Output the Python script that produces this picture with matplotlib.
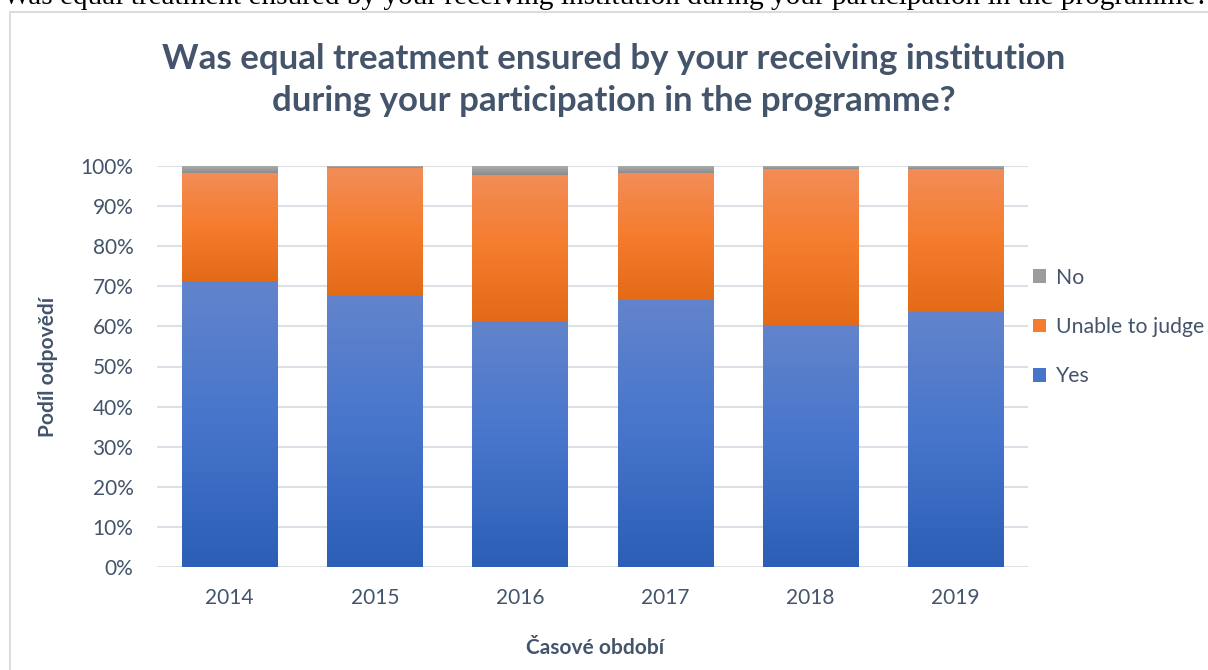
import numpy as np
import matplotlib.pyplot as plt
from matplotlib.patches import Rectangle, Patch
from matplotlib.colors import LinearSegmentedColormap
from matplotlib.ticker import PercentFormatter, MultipleLocator

# data (% of answers)
years = ['2014', '2015', '2016', '2017', '2018', '2019']
yes = [71.2, 67.7, 61.3, 66.7, 60.3, 63.7]
unable = [27.1, 31.9, 36.5, 31.6, 39.0, 35.6]
no = [1.7, 0.4, 2.2, 1.7, 0.7, 0.7]

top_text = 'Was equal treatment ensured by your receiving institution during your participation in the programme?'
title = 'Was equal treatment ensured by your receiving institution\nduring your participation in the programme?'

plt.rcParams['font.family'] = ['Lato', 'DejaVu Sans']
txt_col = '#44546A'

# gradients bottom -> top, like the office preset
grads = {
    'Yes': ['#2C5EB6', '#4675CB', '#6384CC'],
    'Unable to judge': ['#E36A17', '#F57C2D', '#F28D57'],
    'No': ['#8C8C8C', '#9C9C9C', '#ABABAB'],
}
mid = {k: v[1] for k, v in grads.items()}

fig = plt.figure(figsize=(12.08, 6.70), dpi=100)
fig.patch.set_facecolor('white')
W, H = 1208, 670
ax = fig.add_axes([157 / W, 1 - 567 / H, 871 / W, 401 / H])

x = np.arange(len(years))
grad = np.linspace(0, 1, 256).reshape(-1, 1)
bottom = np.zeros(len(years))
for name, vals in [('Yes', yes), ('Unable to judge', unable), ('No', no)]:
    bars = ax.bar(x, vals, 0.655, bottom=bottom, facecolor='none', edgecolor='none', zorder=2)
    cmap = LinearSegmentedColormap.from_list(name, grads[name])
    for p in bars:
        bb = p.get_bbox()
        im = ax.imshow(grad, extent=[bb.x0, bb.x1, bb.y0, bb.y1], origin='lower',
                       aspect='auto', cmap=cmap, zorder=2, interpolation='bilinear')
        im.set_clip_path(p)
    bottom += np.array(vals)

ax.set_xlim(-0.5, len(years) - 0.5)
ax.set_ylim(0, 100)
ax.set_xticks(x)
ax.set_xticklabels(years)
ax.yaxis.set_major_locator(MultipleLocator(10))
ax.yaxis.set_major_formatter(PercentFormatter(100, decimals=0))
ax.grid(axis='y', color='#DCE1E8', lw=1.5, zorder=0)
ax.set_axisbelow(True)
for s in ax.spines.values():
    s.set_visible(False)
ax.tick_params(length=0, labelsize=15, colors=txt_col, pad=17)
ax.tick_params(axis='x', pad=15)

ax.set_ylabel('Podíl odpovědí', fontsize=15, weight='bold', color=txt_col, va='center')
ax.yaxis.set_label_coords(-0.125, 0.5)
ax.set_xlabel('Časové období', fontsize=15, weight='bold', color=txt_col, va='center')
ax.xaxis.set_label_coords(0.503, -0.202)

handles = [Patch(facecolor=mid[k]) for k in ['No', 'Unable to judge', 'Yes']]
ax.legend(handles, ['No', 'Unable to judge', 'Yes'], loc='center left',
          bbox_to_anchor=(1033 / W, 1 - 327 / H), bbox_transform=fig.transFigure,
          frameon=False, fontsize=15.3, labelcolor=txt_col, handlelength=0.62,
          handleheight=0.62, handletextpad=0.45, labelspacing=1.38,
          borderpad=0, borderaxespad=0)

# chart frame
fig.patches.append(Rectangle((10 / W, -0.1), 1.2, 1 - 12 / H + 0.1, transform=fig.transFigure,
                             fill=False, edgecolor='#D9DDE3', lw=1.5))

# title and the cut caption above the chart, sized to fit the widths seen
r = fig.canvas.get_renderer()
t = fig.text(614 / W, 1 - 80 / H, title, ha='center', va='center', fontsize=22,
             weight='bold', color=txt_col, linespacing=1.4)
t1 = fig.text(0, 0, title.split('\n')[0], fontsize=22, weight='bold')
w = t1.get_window_extent(r).width
t1.remove()
t.set_fontsize(22 * 905 / w)

c = fig.text(3 / W, 1 - 3.5 / H, top_text, ha='left', va='baseline', fontsize=20,
             family='Liberation Serif', color='black')
w = c.get_window_extent(r).width
c.set_fontsize(20 * 1203 / w)

fig.savefig('out.png', dpi=100)
